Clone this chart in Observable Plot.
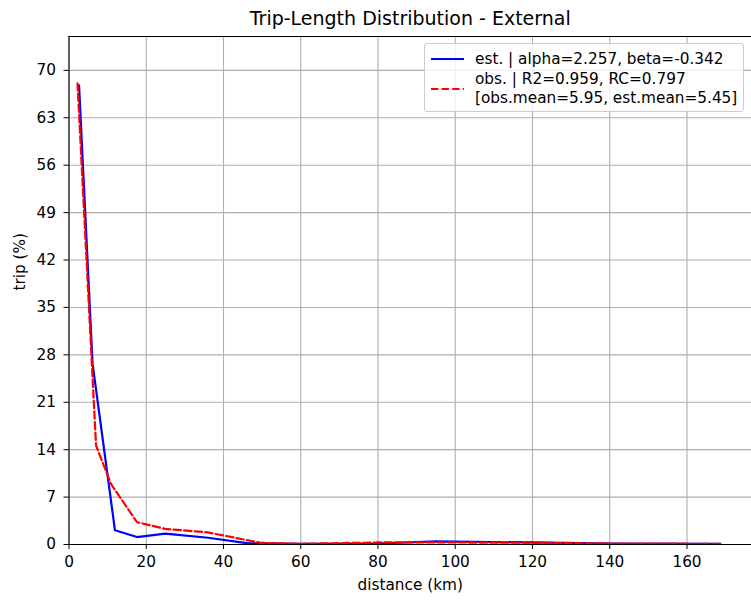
<!DOCTYPE html>
<html>
<head>
<meta charset="utf-8">
<script src="https://cdn.jsdelivr.net/npm/d3@7"></script>
<script src="https://cdn.jsdelivr.net/npm/@observablehq/plot@0.6"></script>
<style>
  html, body { margin: 0; padding: 0; background: #fff; }
  #wrap { position: relative; width: 751px; height: 605px; font-family: "DejaVu Sans", sans-serif; }
  #legend { position: absolute; left: 424px; top: 43px; width: 320px; height: 69px;
    border: 1px solid #cccccc; border-radius: 3px; background: rgba(255,255,255,0.8);
    box-sizing: border-box; font-size: 15.3px; color: #000; }
  #legend .t { position: absolute; white-space: nowrap; line-height: 18px; }
  #legend svg { position: absolute; }
</style>
</head>
<body>
<div id="wrap"></div>
<script>
// Data
const estDist = [2.6, 6.1, 11.9, 17.6, 24.9, 36, 46, 60, 80, 95, 120, 140, 168.6];
const estTrip = [67.8, 26.7, 2.1, 1.1, 1.6, 1.0, 0.2, 0.1, 0.15, 0.45, 0.3, 0.15, 0.1];
const obsDist = [2.2, 7.0, 10.9, 17.6, 24.9, 35.8, 49.6, 60, 80, 100, 120, 140, 168.6];
const obsTrip = [68.1, 14.6, 8.9, 3.3, 2.3, 1.8, 0.25, 0.1, 0.3, 0.3, 0.25, 0.15, 0.1];
const xTicks = [0, 20, 40, 60, 80, 100, 120, 140, 160];
const yTicks = [0, 7, 14, 21, 28, 35, 42, 49, 56, 63, 70];
const title = "Trip-Length Distribution - External";
const xLabel = "distance (km)";
const yLabel = "trip (%)";
const estLabel = "est. | alpha=2.257, beta=-0.342";
const obsLabel1 = "obs. | R2=0.959, RC=0.797";
const obsLabel2 = "[obs.mean=5.95, est.mean=5.45]";

const est = estDist.map((d, i) => ({d, v: estTrip[i]}));
const obs = obsDist.map((d, i) => ({d, v: obsTrip[i]}));

const FS = 15.3;
const chart = Plot.plot({
  width: 751,
  height: 605,
  marginLeft: 68.5,
  marginRight: 0,
  marginTop: 36,
  marginBottom: 61,
  style: {fontFamily: "DejaVu Sans, sans-serif", fontSize: FS + "px", color: "#000", background: "#fff"},
  x: {domain: [0, 176.7]},
  y: {domain: [0, 75]},
  marks: [
    Plot.gridX(xTicks, {stroke: "#b0b0b0", strokeOpacity: 1, strokeWidth: 1.1}),
    Plot.gridY(yTicks, {stroke: "#b0b0b0", strokeOpacity: 1, strokeWidth: 1.1}),
    Plot.line(est, {x: "d", y: "v", stroke: "#0000ff", strokeWidth: 2.2}),
    Plot.line(obs, {x: "d", y: "v", stroke: "#ff0000", strokeWidth: 2.2, strokeDasharray: "7.4,3.2"}),
    Plot.ruleX([0], {stroke: "#000", strokeWidth: 1.1}),
    Plot.ruleY([0], {stroke: "#000", strokeWidth: 1.1}),
    Plot.ruleY([75], {stroke: "#000", strokeWidth: 1.1}),
    Plot.axisX(xTicks, {tickSize: 5, tickPadding: 6.5, label: null, stroke: "#000", fontSize: FS}),
    Plot.axisY(yTicks, {tickSize: 5, tickPadding: 8, label: null, stroke: "#000", fontSize: FS}),
    Plot.text([xLabel], {frameAnchor: "bottom", lineAnchor: "middle", dy: 41, fontSize: FS, fill: "#000"}),
    Plot.text([yLabel], {frameAnchor: "left", lineAnchor: "middle", dx: -49, rotate: -90, fontSize: FS, fill: "#000"}),
    Plot.text([title], {frameAnchor: "top", lineAnchor: "middle", dy: -18, fontSize: 19, fill: "#000"})
  ]
});

const wrap = document.getElementById("wrap");
wrap.appendChild(chart);

// Legend (HTML overlay)
const lg = document.createElement("div");
lg.id = "legend";
lg.innerHTML = `
  <svg width="34" height="6" style="left:6px; top:12px;"><line x1="0" y1="3" x2="33" y2="3" stroke="#0000ff" stroke-width="2.2"/></svg>
  <div class="t" style="left:50px; top:6px;">${estLabel}</div>
  <svg width="34" height="6" style="left:6px; top:42px;"><line x1="0" y1="3" x2="33" y2="3" stroke="#ff0000" stroke-width="2.2" stroke-dasharray="7.4,3.2"/></svg>
  <div class="t" style="left:50px; top:26px;">${obsLabel1}</div>
  <div class="t" style="left:50px; top:45px;">${obsLabel2}</div>
`;
wrap.appendChild(lg);
</script>
</body>
</html>
